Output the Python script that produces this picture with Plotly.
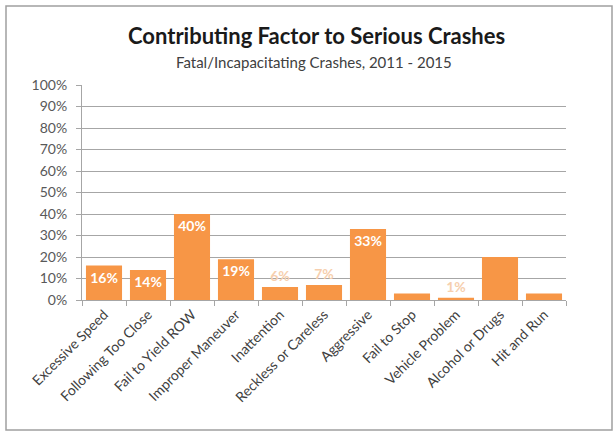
import plotly.graph_objects as go

# Share of fatal/incapacitating crashes by contributing factor (2011-2015)
factors = ["Excessive Speed", "Following Too Close", "Fail to Yield ROW",
           "Improper Maneuver", "Inattention", "Reckless or Careless",
           "Aggressive", "Fail to Stop", "Vehicle Problem",
           "Alcohol or Drugs", "Hit and Run"]
share_pct = [16, 14, 40, 19, 6, 7, 33, 3, 1, 20, 3]
show_label = [True, True, True, True, True, True, True, False, True, False, True]
y_ticks = [0, 10, 20, 30, 40, 50, 60, 70, 80, 90, 100]

bar_color = "#F79646"
faint = "#F6CFAE"

texts, positions, colors = [], [], []
for v, show in zip(share_pct, show_label):
    texts.append(f"<b>{v}%</b>" if show else "")
    if 1 <= v < 10 and v != 3:
        positions.append("outside")
        colors.append(faint)
    else:
        positions.append("inside")
        colors.append("white")

W, H = 613, 433
L, R, T, B = 82, 47, 85, 133
plot_w, plot_h = W - L - R, H - T - B


def px_x(x):
    return (x - L) / plot_w


def px_y(y):
    return 1 - (y - T) / plot_h


fig = go.Figure(go.Bar(
    x=factors,
    y=share_pct,
    marker=dict(color=bar_color, line=dict(width=0)),
    text=texts,
    textposition=positions,
    insidetextanchor="end",
    constraintext="none",
    textfont=dict(family="Lato, Open Sans, sans-serif", size=14, color=colors),
    cliponaxis=False,
))

fig.update_layout(
    width=W, height=H,
    margin=dict(l=L, r=R, t=T, b=B),
    paper_bgcolor="white",
    plot_bgcolor="white",
    bargap=0.18,
    showlegend=False,
    font=dict(family="Lato, Open Sans, sans-serif", color="#404040"),
    annotations=[
        dict(text="<b>Contributing Factor to Serious Crashes</b>",
             x=px_x(316), y=px_y(36), xref="paper", yref="paper",
             xanchor="center", yanchor="middle",
             showarrow=False, font=dict(size=22, color="#1a1a1a")),
        dict(text="Fatal/Incapacitating Crashes, 2011 - 2015",
             x=px_x(314), y=px_y(62), xref="paper", yref="paper",
             xanchor="center", yanchor="middle",
             showarrow=False, font=dict(size=15, color="#404040")),
    ],
    shapes=[dict(type="rect", xref="paper", yref="paper",
                 x0=px_x(6), x1=px_x(612), y0=px_y(430), y1=px_y(6),
                 line=dict(color="#A0A0A0", width=1.5))],
)

fig.update_xaxes(
    tickangle=-45,
    tickfont=dict(size=14, color="#404040"),
    showline=True, linecolor="#A6A6A6", linewidth=1,
    ticks="outside", tickson="boundaries", ticklen=5, tickcolor="#A6A6A6",
    showgrid=False,
)
fig.update_yaxes(
    range=[0, 100],
    tickvals=y_ticks,
    ticktext=[f"{t}%" for t in y_ticks],
    tickfont=dict(size=14, color="#595959"),
    ticklabelstandoff=6,
    showgrid=True, gridcolor="#A6A6A6", gridwidth=1,
    showline=True, linecolor="#A6A6A6", linewidth=1,
    ticks="outside", ticklen=5, tickcolor="#A6A6A6",
    zeroline=False,
)

fig.write_html("out.html")
